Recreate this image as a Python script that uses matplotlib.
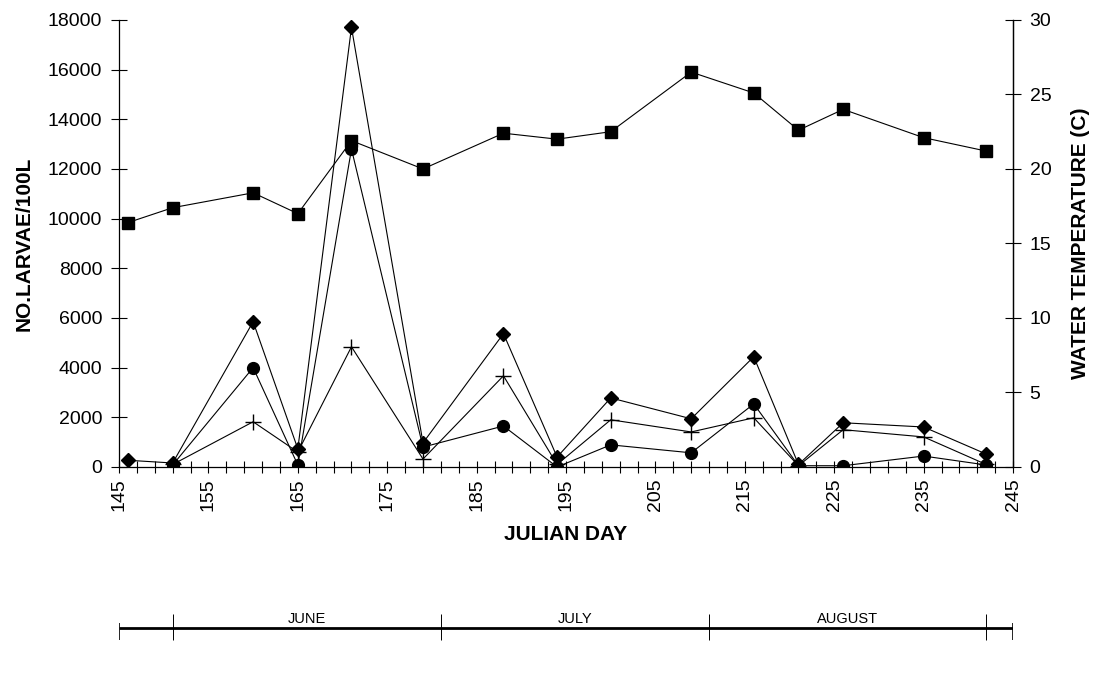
import matplotlib
matplotlib.use("Agg")
import matplotlib.pyplot as plt

plt.rcParams['font.family'] = ['Liberation Sans', 'DejaVu Sans']

# --- datos ---
dias = [146, 151, 160, 165, 171, 179, 188, 194, 200, 209, 216, 221, 226, 235, 242]

# temperatura del agua (C), eje derecho
temperatura = [16.4, 17.4, 18.4, 17.0, 21.9, 20.0, 22.4, 22.0, 22.5, 26.5, 25.1, 22.6, 24.0, 22.1, 21.2]

# larvas / 100 L (diamante = total)
larvas_total = [270, 160, 5850, 730, 17700, 970, 5370, 400, 2780, 1940, 4440, 100, 1780, 1610, 520]

dias_b = [151, 160, 165, 171, 179, 188, 194, 200, 209, 216, 221, 226, 235, 242]
larvas_circulo = [80, 4000, 80, 12800, 800, 1650, 0, 890, 570, 2540, 50, 50, 440, 80]
larvas_cruz = [100, 1820, 600, 4840, 320, 3670, 100, 1900, 1410, 1980, 50, 1500, 1210, 100]

# meses (limites en dia juliano, segun la barra inferior)
meses = ["JUNE", "JULY", "AUGUST"]
limites_meses = [151, 181, 211, 242]

x_ticks = list(range(145, 246, 10))
y_ticks = list(range(0, 18001, 2000))
t_ticks = list(range(0, 31, 5))

fig = plt.figure(figsize=(10.94, 7.0), dpi=100)
ax = fig.add_axes([0.1088, 0.3329, 0.8172, 0.6386])
ax2 = ax.twinx()

linea = dict(color='black', linewidth=0.8)

ax.plot(dias, larvas_total, marker='D', markersize=7, **linea)
ax.plot(dias_b, larvas_cruz, marker='+', markersize=11, markeredgewidth=1.0, **linea)
ax.plot(dias_b, larvas_circulo, marker='o', markersize=8.5, **linea)
ax2.plot(dias, temperatura, marker='s', markersize=8.5, **linea)

ax.set_xlim(145, 245)
ax.set_ylim(0, 18000)
ax2.set_ylim(0, 30)

ax.set_xticks(x_ticks)
ax.set_xticks(list(range(145, 246, 2)), minor=True)
ax.set_xticklabels([str(v) for v in x_ticks], rotation=90, fontsize=14)
ax.set_yticks(y_ticks)
ax.set_yticklabels([str(v) for v in y_ticks], fontsize=14)
ax2.set_yticks(t_ticks)
ax2.set_yticklabels([str(v) for v in t_ticks], fontsize=14)

ax.tick_params(axis='x', which='both', direction='inout', length=8, width=0.8, pad=4)
ax.tick_params(axis='y', direction='inout', length=12, width=0.8, pad=6)
ax2.tick_params(axis='y', direction='inout', length=12, width=0.8, pad=6)

for a in (ax, ax2):
    a.spines['top'].set_visible(False)
    for s in ('left', 'right', 'bottom'):
        a.spines[s].set_linewidth(0.9)
ax2.spines['left'].set_visible(False)
ax2.spines['bottom'].set_visible(False)

ax.set_xlabel("JULIAN DAY", fontsize=15, fontweight='bold', labelpad=10)
ax.set_ylabel("NO.LARVAE/100L", fontsize=15, fontweight='bold', labelpad=10)
ax2.set_ylabel("WATER TEMPERATURE (C)", fontsize=15, fontweight='bold', labelpad=14)

# --- barra de meses ---
axm = fig.add_axes([0.1088, 0.0786, 0.8172, 0.0643])
axm.set_xlim(145, 245)
axm.set_ylim(0, 1)
axm.axis('off')
axm.hlines(0.38, 145, 245, color='black', linewidth=2)
axm.vlines([145, 245], 0.11, 0.49, color='black', linewidth=1.2)
axm.vlines(limites_meses, 0.11, 0.69, color='black', linewidth=0.7)
for i, mes in enumerate(meses):
    centro = (limites_meses[i] + limites_meses[i + 1]) / 2
    axm.text(centro, 0.42, mes, ha='center', va='bottom', fontsize=10.5)

fig.savefig("out.png", dpi=100)
